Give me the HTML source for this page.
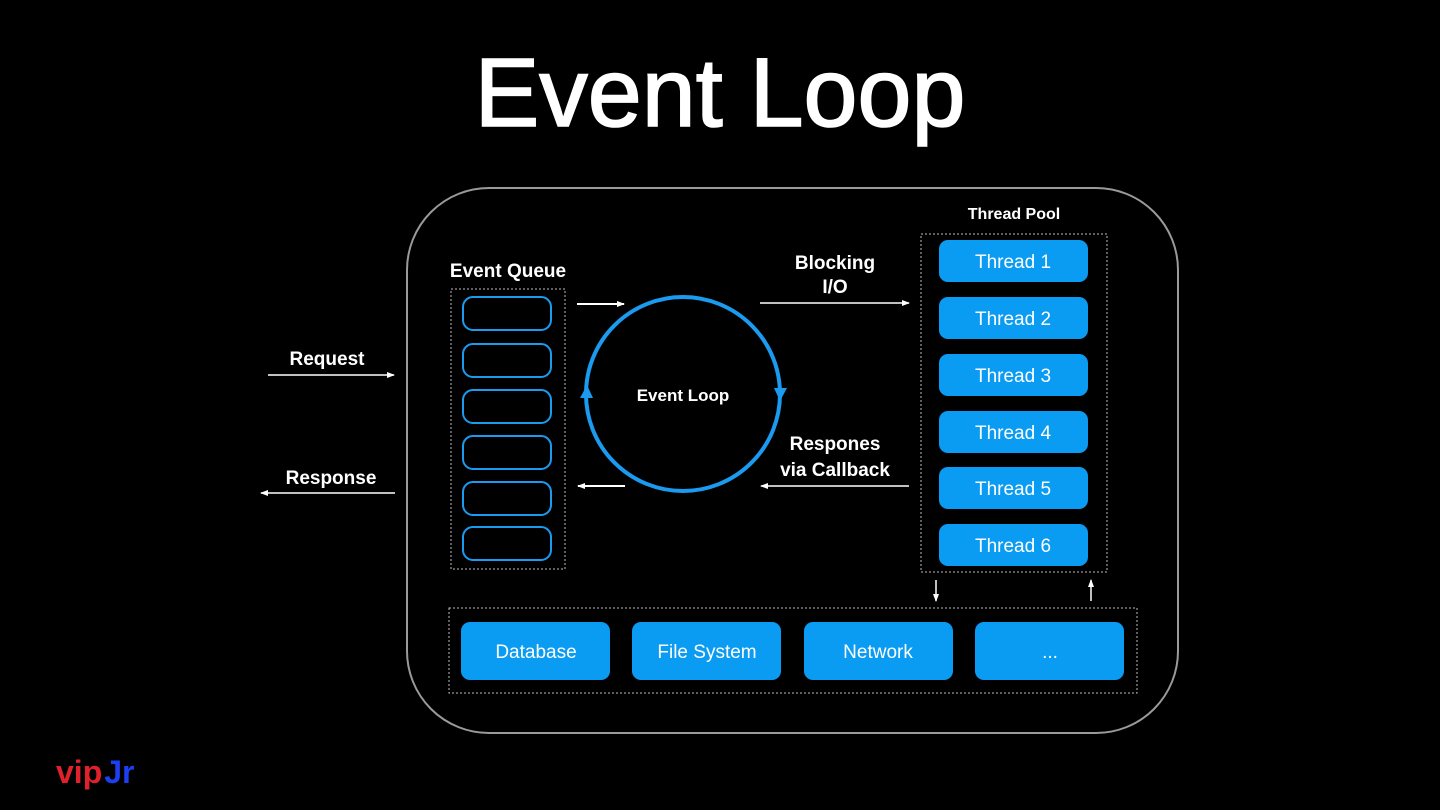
<!DOCTYPE html>
<html><head><style>
html,body{margin:0;padding:0;background:#000;overflow:hidden;}
svg{display:block;}
svg text{font-family:"Liberation Sans",Arial,sans-serif;fill:#fff;font-weight:bold;}
svg text.n{font-weight:normal;}
</style></head><body>
<svg width="1440" height="810" viewBox="0 0 1440 810" xmlns="http://www.w3.org/2000/svg">
<rect width="1440" height="810" fill="#000"/>
<text x="720" y="126" text-anchor="middle" font-size="97" class="n" style="stroke:#fff;stroke-width:1.6">Event Loop</text>
<rect x="407" y="188" width="771" height="545" rx="82" fill="none" stroke="#9a9a9a" stroke-width="2"/>
<defs><marker id="ah" markerWidth="8" markerHeight="8" refX="7" refY="4" orient="auto" markerUnits="userSpaceOnUse"><path d="M0,1 L8,4 L0,7 Z" fill="#fff"/></marker></defs>
<text x="327" y="365" text-anchor="middle" font-size="19">Request</text>
<line x1="268" y1="375" x2="394" y2="375" stroke="#fff" stroke-width="1.5" marker-end="url(#ah)"/>
<text x="331" y="484" text-anchor="middle" font-size="19">Response</text>
<line x1="395" y1="493" x2="261" y2="493" stroke="#fff" stroke-width="1.5" marker-end="url(#ah)"/>
<text x="508" y="277" text-anchor="middle" font-size="19">Event Queue</text>
<rect x="451" y="289" width="114" height="280" fill="none" stroke="#bbb" stroke-width="1" stroke-dasharray="2,2"/>
<g fill="none" stroke="#1a9bf0" stroke-width="2">
<rect x="463" y="297" width="88" height="33" rx="10"/>
<rect x="463" y="344" width="88" height="33" rx="10"/>
<rect x="463" y="390" width="88" height="33" rx="10"/>
<rect x="463" y="436" width="88" height="33" rx="10"/>
<rect x="463" y="482" width="88" height="33" rx="10"/>
<rect x="463" y="527" width="88" height="33" rx="10"/>
</g>
<line x1="577" y1="304" x2="624" y2="304" stroke="#fff" stroke-width="2" marker-end="url(#ah)"/>
<line x1="625" y1="486" x2="578" y2="486" stroke="#fff" stroke-width="2" marker-end="url(#ah)"/>
<circle cx="683" cy="394" r="97" fill="none" stroke="#1a9bf0" stroke-width="4"/>
<path d="M774,388 L787,388 L780,401 Z" fill="#1a9bf0"/>
<path d="M580,398 L593,398 L587,385 Z" fill="#1a9bf0"/>
<text x="683" y="401" text-anchor="middle" font-size="17">Event Loop</text>
<text x="835" y="269" text-anchor="middle" font-size="19">Blocking</text>
<text x="835" y="293" text-anchor="middle" font-size="19">I/O</text>
<line x1="760" y1="303" x2="909" y2="303" stroke="#fff" stroke-width="1.5" marker-end="url(#ah)"/>
<text x="835" y="450" text-anchor="middle" font-size="19">Respones</text>
<text x="835" y="476" text-anchor="middle" font-size="19">via Callback</text>
<line x1="909" y1="486" x2="761" y2="486" stroke="#fff" stroke-width="1.5" marker-end="url(#ah)"/>
<text x="1014" y="219" text-anchor="middle" font-size="16">Thread Pool</text>
<rect x="921" y="234" width="186" height="338" fill="none" stroke="#bbb" stroke-width="1" stroke-dasharray="2,2"/>
<g fill="#0a9bf2">
<rect x="939" y="240" width="149" height="42" rx="9"/>
<rect x="939" y="297" width="149" height="42" rx="9"/>
<rect x="939" y="354" width="149" height="42" rx="9"/>
<rect x="939" y="411" width="149" height="42" rx="9"/>
<rect x="939" y="467" width="149" height="42" rx="9"/>
<rect x="939" y="524" width="149" height="42" rx="9"/>
</g>
<g font-size="19" text-anchor="middle">
<text class="n" x="1013" y="268">Thread 1</text>
<text class="n" x="1013" y="325">Thread 2</text>
<text class="n" x="1013" y="382">Thread 3</text>
<text class="n" x="1013" y="439">Thread 4</text>
<text class="n" x="1013" y="495">Thread 5</text>
<text class="n" x="1013" y="552">Thread 6</text>
</g>
<line x1="936" y1="580" x2="936" y2="601" stroke="#fff" stroke-width="1.5" marker-end="url(#ah)"/>
<line x1="1091" y1="601" x2="1091" y2="580" stroke="#fff" stroke-width="1.5" marker-end="url(#ah)"/>
<rect x="449" y="608" width="688" height="85" fill="none" stroke="#bbb" stroke-width="1" stroke-dasharray="2,2"/>
<g fill="#0a9bf2">
<rect x="461" y="622" width="149" height="58" rx="9"/>
<rect x="632" y="622" width="149" height="58" rx="9"/>
<rect x="804" y="622" width="149" height="58" rx="9"/>
<rect x="975" y="622" width="149" height="58" rx="9"/>
</g>
<g font-size="19" text-anchor="middle">
<text class="n" x="536" y="658">Database</text>
<text class="n" x="707" y="658">File System</text>
<text class="n" x="878" y="658">Network</text>
<text class="n" x="1050" y="658">...</text>
</g>
<text x="56" y="783" font-size="32" style="fill:#e0202a">vip<tspan style="fill:#1c3ff0" dx="2">Jr</tspan></text>
</svg>
</body></html>
